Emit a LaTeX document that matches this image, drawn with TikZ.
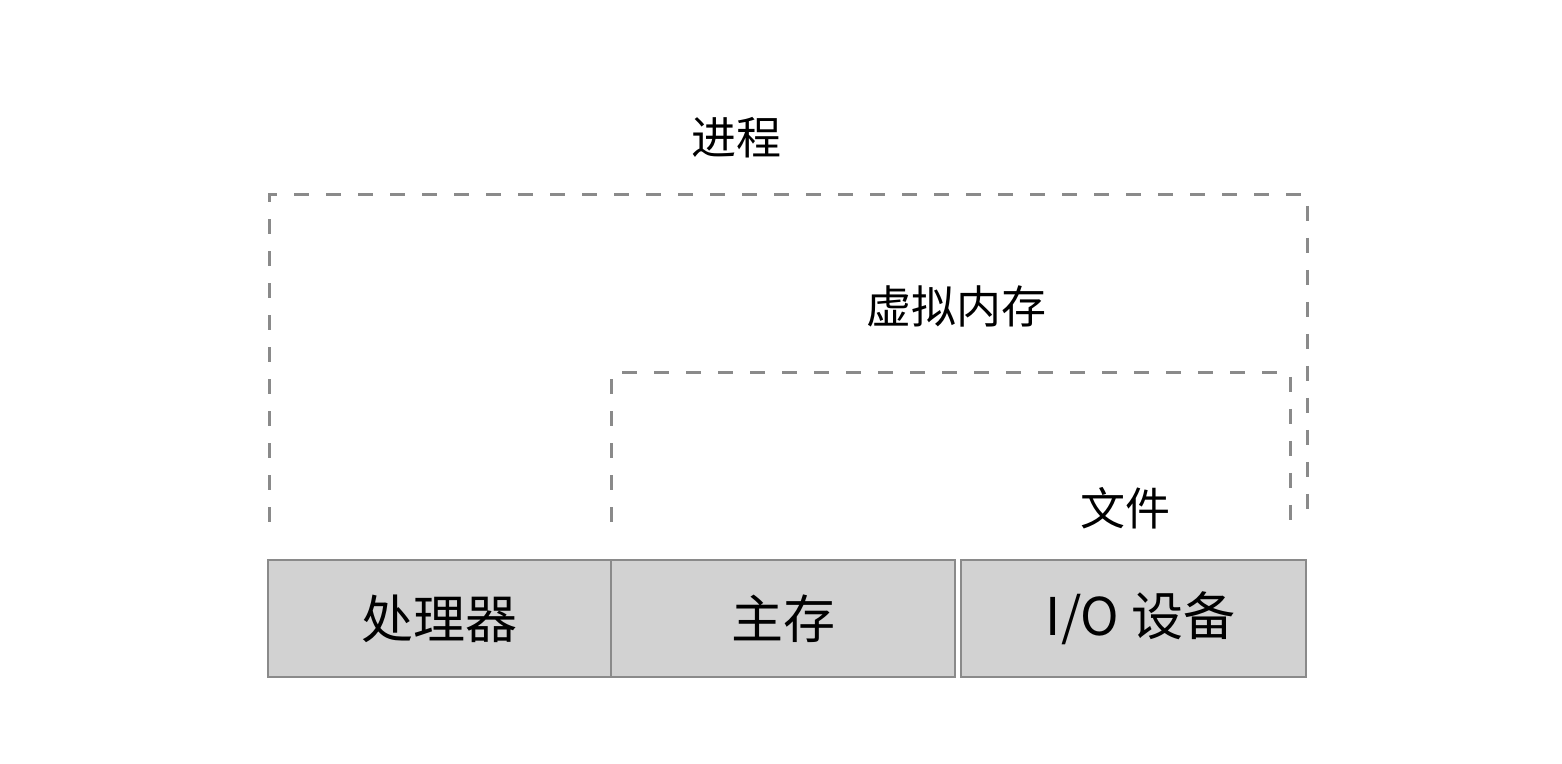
\documentclass[tikz,border=0pt]{standalone}
\usepackage{fontspec}
\setmainfont{Noto Sans CJK SC}
\definecolor{linegray}{HTML}{8A8A8A}
\definecolor{boxgray}{HTML}{D2D2D2}
\tikzset{
  region/.style={draw=linegray, line width=1.5pt, dash pattern=on 7.5pt off 8.5pt},
  unit/.style={draw=linegray, fill=boxgray, line width=1pt, inner sep=0pt,
    minimum height=58.5pt, font=\fontsize{26}{31}\selectfont},
  tag/.style={font=\fontsize{22.5}{27}\selectfont}
}
\begin{document}
\begin{tikzpicture}[x=.5pt,y=.5pt]
  \useasboundingbox (0,0) rectangle (1562,764);

  %% hardware
  \node[unit, minimum width=171.5pt] (cpu) at (439.5,145.5) {处理器};
  \node[unit, minimum width=172pt] (mem) at (783,145.5) {主存};
  \node[unit, minimum width=172.5pt] (io) at (1133.5,145.5) {\hspace{7pt}I/O 设备};

  %% abstractions
  \draw[region] (269,242) -- (269,569) -- (1307,569) -- (1307,242);
  \draw[region] (611,242) -- (611,391) -- (1290,391) -- (1290,242);

  \node[tag] (proc) at (736,626) {进程};
  \node[tag] (vmem) at (956,458) {虚拟内存};
  \node[tag] (file) at (1125,256) {文件};
\end{tikzpicture}
\end{document}
